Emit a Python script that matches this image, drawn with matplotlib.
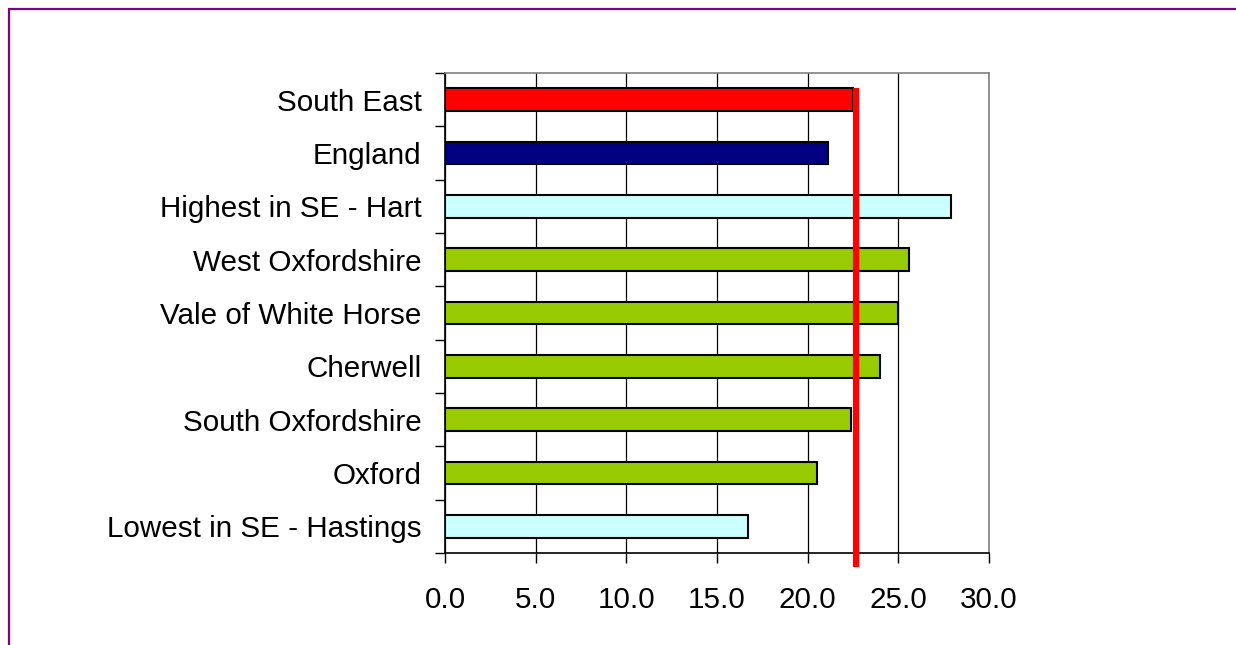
import matplotlib
matplotlib.use("Agg")
import matplotlib.pyplot as plt
from matplotlib.patches import Rectangle

plt.rcParams["font.family"] = ["Liberation Sans", "DejaVu Sans"]

# Data (top to bottom as in the chart)
areas = ["South East", "England", "Highest in SE - Hart", "West Oxfordshire",
         "Vale of White Horse", "Cherwell", "South Oxfordshire", "Oxford",
         "Lowest in SE - Hastings"]
values = [22.5, 21.1, 27.9, 25.6, 25.0, 24.0, 22.4, 20.5, 16.7]
colors = ["#FF0000", "#000080", "#CCFFFF", "#99CC00", "#99CC00", "#99CC00",
          "#99CC00", "#99CC00", "#CCFFFF"]
se_line = 22.65
x_ticks = [0, 5, 10, 15, 20, 25, 30]

fig = plt.figure(figsize=(12.36, 6.45), dpi=100)
W, H = 1236, 645

# purple outer border (runs off the right and bottom edges)
fig.patches.append(Rectangle((9 / W, -0.1), 1.2, 1 - 9 / H + 0.1,
                             transform=fig.transFigure, fill=False,
                             edgecolor="#800080", linewidth=1.6))

ax = fig.add_axes([445 / W, 1 - 553 / H, (989 - 445) / W, (553 - 73) / H])

n = len(areas)
ypos = list(range(n))
ax.barh(ypos, values, height=0.42, color=colors, edgecolor="black",
        linewidth=1.5, zorder=3)
ax.set_ylim(n - 0.5, -0.5)
ax.set_xlim(0, 30)

# South East reference line, extending below the axis
ax.plot([se_line, se_line], [-0.22, n - 0.5 + 0.27], color="#FF0000",
        linewidth=4.5, solid_capstyle="butt", clip_on=False, zorder=4)

ax.set_xticks(x_ticks)
ax.set_xticklabels([f"{t:.1f}" for t in x_ticks], fontsize=21.3)
ax.set_yticks([i + 0.5 for i in range(-1, n)], minor=False)
ax.set_yticklabels([])
ax.set_yticks(ypos, minor=True)
ax.set_yticklabels(areas, minor=True, fontsize=21.3)
ax.tick_params(axis="y", which="minor", length=0, pad=17)
ax.tick_params(axis="y", which="major", length=7, width=1, direction="out")
ax.tick_params(axis="x", length=7, width=1, direction="out", pad=17)

ax.grid(axis="x", color="black", linewidth=0.9, zorder=0)
ax.spines["left"].set_color("black")
ax.spines["bottom"].set_color("black")
ax.spines["top"].set_color("#808080")
ax.spines["right"].set_color("#808080")
for s in ax.spines.values():
    s.set_linewidth(1.2)

fig.savefig("out.png", dpi=100)
